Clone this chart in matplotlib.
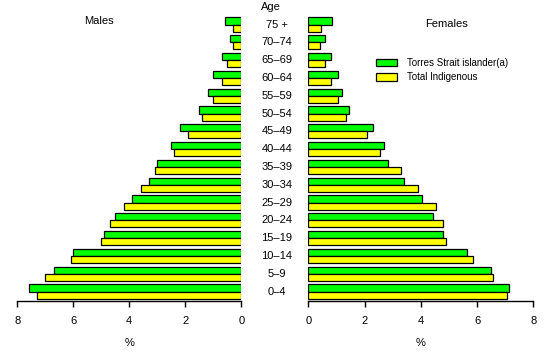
import matplotlib
matplotlib.use("Agg")
import matplotlib.pyplot as plt
from matplotlib.patches import Patch
import numpy as np

plt.rcParams['font.family'] = ['Liberation Sans', 'DejaVu Sans']

age_groups = ["0–4", "5–9", "10–14", "15–19", "20–24", "25–29", "30–34", "35–39",
              "40–44", "45–49", "50–54", "55–59", "60–64", "65–69", "70–74", "75 +"]

males_tsi = [7.6, 6.7, 6.0, 4.9, 4.5, 3.9, 3.3, 3.0,
             2.5, 2.2, 1.5, 1.2, 1.0, 0.7, 0.4, 0.6]
males_total = [7.3, 7.0, 6.1, 5.0, 4.7, 4.2, 3.6, 3.1,
               2.4, 1.9, 1.4, 1.0, 0.7, 0.5, 0.3, 0.3]
females_tsi = [7.15, 6.5, 5.65, 4.8, 4.45, 4.05, 3.4, 2.85,
               2.7, 2.3, 1.45, 1.2, 1.05, 0.8, 0.6, 0.85]
females_total = [7.05, 6.55, 5.85, 4.9, 4.8, 4.55, 3.9, 3.3,
                 2.55, 2.1, 1.35, 1.05, 0.8, 0.6, 0.4, 0.45]

series_labels = ["Torres Strait islander(a)", "Total Indigenous"]
green = "#00ff00"
yellow = "#ffff00"

W, H = 550, 353
fig = plt.figure(figsize=(W / 100, H / 100), dpi=100)

bottom_px = 301
ylo, yhi = -0.53, 15.6
spacing = 17.8
ax_h = (yhi - ylo) * spacing
axL = fig.add_axes([17.3 / W, 1 - bottom_px / H, (241.3 - 17.3) / W, ax_h / H])
axR = fig.add_axes([308.3 / W, 1 - bottom_px / H, (533.3 - 308.3) / W, ax_h / H])

y = np.arange(len(age_groups))
bh = 0.4
for ax, tsi, tot in [(axL, males_tsi, males_total), (axR, females_tsi, females_total)]:
    ax.barh(y + bh / 2, tsi, height=bh, color=green, edgecolor='black', linewidth=0.9)
    ax.barh(y - bh / 2, tot, height=bh, color=yellow, edgecolor='black', linewidth=0.9)
    ax.set_ylim(ylo, yhi)
    ax.set_xlim(0, 8)
    ax.set_xticks([0, 2, 4, 6, 8])
    ax.set_yticks([])
    for s in ['top', 'left', 'right']:
        ax.spines[s].set_visible(False)
    ax.spines['bottom'].set_linewidth(1.0)
    ax.tick_params(axis='x', direction='out', length=4.5, width=1.0, labelsize=8, pad=6)
    ax.set_xlabel('%', fontsize=8, labelpad=9)
    ax.patch.set_alpha(0)

axL.invert_xaxis()

# center age labels
for i, lab in enumerate(age_groups):
    yy = axL.transData.transform((0, i))[1]
    fig.text(277 / W, yy / fig.dpi / fig.get_figheight(), lab, ha='center', va='center', fontsize=8)

fig.text(271 / W, 1 - 7 / H, "Age", ha='center', va='center', fontsize=8)
fig.text(99 / W, 1 - 21 / H, "Males", ha='center', va='center', fontsize=8)
fig.text(447 / W, 1 - 24 / H, "Females", ha='center', va='center', fontsize=8)

handles = [Patch(facecolor=green, edgecolor='black', linewidth=0.9),
           Patch(facecolor=yellow, edgecolor='black', linewidth=0.9)]
fig.legend(handles, series_labels, loc='upper left', bbox_to_anchor=(376 / W, 1 - 58 / H),
           frameon=False, fontsize=7, borderpad=0, borderaxespad=0,
           handlelength=2.15, handleheight=0.8, handletextpad=1.0, labelspacing=0.45)

fig.savefig("out.png", dpi=100)
